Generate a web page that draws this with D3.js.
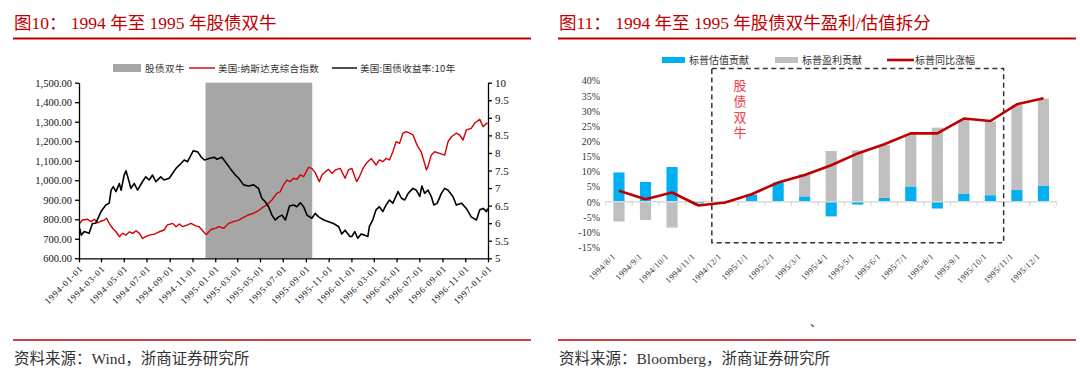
<!DOCTYPE html>
<html>
<head>
<meta charset="utf-8">
<script src="https://cdn.jsdelivr.net/npm/d3@7"></script>
<style>
body{margin:0;background:#fff;}
svg{display:block;}
</style>
</head>
<body>
<script>
// ---- figure 10 data ----
var nasdaq = [
	["1994-01-03",779],["1994-01-10",796],["1994-01-24",800],["1994-02-02",788],["1994-02-11",800],
	["1994-02-20",782],["1994-03-01",790],["1994-03-10",796],["1994-03-16",805],["1994-03-23",779],
	["1994-04-01",754],["1994-04-10",736],["1994-04-19",711],["1994-04-28",728],["1994-05-07",719],
	["1994-05-16",736],["1994-05-25",728],["1994-06-03",741],["1994-06-12",728],["1994-06-20",702],
	["1994-06-29",711],["1994-07-08",719],["1994-07-22",724],["1994-08-04",736],["1994-08-17",745],
	["1994-08-26",771],["1994-09-09",779],["1994-09-18",762],["1994-09-27",776],["1994-10-06",762],
	["1994-10-19",771],["1994-10-28",779],["1994-11-10",766],["1994-11-19",762],["1994-12-03",731],
	["1994-12-08",722],["1994-12-22",749],["1995-01-03",755],["1995-01-10",762],["1995-01-24",754],
	["1995-02-06",779],["1995-02-19",788],["1995-03-05",796],["1995-03-18",810],["1995-03-31",822],
	["1995-04-14",831],["1995-04-27",844],["1995-05-10",864],["1995-05-19",873],["1995-06-02",899],
	["1995-06-15",933],["1995-06-24",941],["1995-07-03",976],["1995-07-12",1001],["1995-07-21",993],
	["1995-07-30",1010],["1995-08-08",1005],["1995-08-17",1027],["1995-08-26",1018],["1995-09-08",1066],
	["1995-09-17",1061],["1995-09-26",1039],["1995-10-07",993],["1995-10-14",1027],["1995-10-23",1044],
	["1995-11-01",1056],["1995-11-10",1035],["1995-11-19",1053],["1995-12-02",1061],["1995-12-15",1010],
	["1995-12-24",1053],["1996-01-02",1061],["1996-01-10",1018],["1996-01-15",993],["1996-01-23",1020],
	["1996-02-01",1061],["1996-02-10",1087],["1996-02-23",1112],["1996-03-07",1078],["1996-03-16",1104],
	["1996-03-25",1095],["1996-04-03",1112],["1996-04-12",1104],["1996-04-21",1146],["1996-04-30",1198],
	["1996-05-09",1189],["1996-05-18",1241],["1996-05-27",1249],["1996-06-05",1241],["1996-06-14",1232],
	["1996-06-23",1189],["1996-06-27",1172],["1996-07-06",1146],["1996-07-15",1087],["1996-07-20",1053],
	["1996-07-24",1070],["1996-08-02",1129],["1996-08-11",1146],["1996-08-24",1138],["1996-09-07",1129],
	["1996-09-16",1198],["1996-09-25",1223],["1996-10-08",1241],["1996-10-17",1232],["1996-10-26",1206],
	["1996-11-04",1258],["1996-11-17",1266],["1996-11-26",1292],["1996-12-10",1312],["1996-12-19",1274],
	["1996-12-28",1292],["1996-12-31",1291]
];

var yield10 = [
	["1994-01-03",5.85],["1994-01-07",5.66],["1994-01-15",5.76],["1994-01-28",5.71],["1994-02-06",5.99],
	["1994-02-15",6.00],["1994-03-01",6.33],["1994-03-14",6.52],["1994-03-23",6.57],["1994-03-28",6.94],
	["1994-04-03",7.04],["1994-04-10",6.90],["1994-04-19",7.13],["1994-04-24",6.94],["1994-05-02",7.37],
	["1994-05-07",7.49],["1994-05-14",7.23],["1994-05-20",6.99],["1994-05-29",7.13],["1994-06-07",6.94],
	["1994-06-20",7.18],["1994-06-29",7.32],["1994-07-08",7.23],["1994-07-17",7.37],["1994-07-26",7.18],
	["1994-08-08",7.32],["1994-08-17",7.23],["1994-08-31",7.28],["1994-09-09",7.42],["1994-09-18",7.56],
	["1994-10-01",7.70],["1994-10-10",7.80],["1994-10-19",7.75],["1994-10-28",7.94],["1994-11-03",8.06],
	["1994-11-15",8.03],["1994-11-24",7.89],["1994-12-03",7.80],["1994-12-16",7.84],["1994-12-29",7.88],
	["1995-01-06",7.82],["1995-01-19",7.88],["1995-01-28",7.75],["1995-02-10",7.56],["1995-02-24",7.37],
	["1995-03-05",7.28],["1995-03-18",7.09],["1995-03-31",7.06],["1995-04-14",7.09],["1995-04-27",6.99],
	["1995-05-06",6.71],["1995-05-15",6.61],["1995-05-24",6.47],["1995-06-02",6.23],["1995-06-11",6.09],
	["1995-06-20",6.18],["1995-06-29",6.23],["1995-07-08",6.09],["1995-07-19",6.49],["1995-07-30",6.52],
	["1995-08-08",6.47],["1995-08-17",6.58],["1995-08-26",6.47],["1995-09-04",6.23],["1995-09-17",6.14],
	["1995-09-26",6.28],["1995-10-05",6.18],["1995-10-19",6.09],["1995-11-01",6.04],["1995-11-14",5.99],
	["1995-11-28",5.90],["1995-12-06",5.69],["1995-12-15",5.80],["1995-12-28",5.62],["1996-01-02",5.62],
	["1996-01-10",5.76],["1996-01-18",5.57],["1996-01-27",5.69],["1996-02-05",5.66],["1996-02-14",5.62],
	["1996-02-18",5.90],["1996-02-27",6.09],["1996-03-07",6.38],["1996-03-16",6.47],["1996-03-25",6.33],
	["1996-04-03",6.52],["1996-04-12",6.66],["1996-04-21",6.57],["1996-05-05",6.90],["1996-05-14",6.71],
	["1996-05-23",6.66],["1996-06-01",6.85],["1996-06-14",6.99],["1996-06-23",6.94],["1996-07-02",6.76],
	["1996-07-08",7.06],["1996-07-15",6.85],["1996-07-24",6.94],["1996-08-02",6.76],["1996-08-09",6.52],
	["1996-08-18",6.57],["1996-08-29",6.85],["1996-09-07",6.99],["1996-09-16",6.94],["1996-09-29",6.76],
	["1996-10-08",6.52],["1996-10-22",6.57],["1996-11-04",6.42],["1996-11-17",6.18],["1996-12-01",6.09],
	["1996-12-10",6.38],["1996-12-19",6.42],["1996-12-28",6.33],["1996-12-31",6.42]
];

var bullPeriod = ["1994-12-06", "1995-09-18"];
var leftTicks = [600, 700, 800, 900, 1000, 1100, 1200, 1300, 1400, 1500];
var rightTicks = [5, 5.5, 6, 6.5, 7, 7.5, 8, 8.5, 9, 9.5, 10];

// ---- figure 11 data ----
var months = ["1994/8/1","1994/9/1","1994/10/1","1994/11/1","1994/12/1","1995/1/1","1995/2/1",
	"1995/3/1","1995/4/1","1995/5/1","1995/6/1","1995/7/1","1995/8/1","1995/9/1","1995/10/1",
	"1995/11/1","1995/12/1"];
var valuation = [9.7, 6.6, 11.5, -0.5, 0.1, 2.3, 6.4, 1.8, -4.8, -0.9, 1.3, 5.1, -2.2, 2.6, 2.2, 3.9, 5.4];
var earnings = [-6.5, -6.0, -8.5, -0.7, -0.3, 0.2, 0.0, 7.4, 16.8, 17.0, 17.5, 17.3, 24.5, 24.4, 24.4, 28.1, 28.7];
var yoy = [3.7, 0.9, 3.1, -1.2, -0.2, 2.5, 6.4, 8.9, 12.1, 16.0, 19.0, 22.6, 22.6, 27.5, 26.7, 32.2, 34.2];
var pctTicks = [-15, -10, -5, 0, 5, 10, 15, 20, 25, 30, 35, 40];
var bullMonths = ["1994/12/1", "1995/10/1"];

var serif = "'Liberation Serif','Noto Sans CJK SC',serif";
var cjk = "'Noto Sans CJK SC',sans-serif";
var red = "#c00000";

var svg = d3.select("body")
	.append("svg")
	.attr("width", 1080)
	.attr("height", 374)
	.style("background", "#fff");

// titles, rules and sources
function frame(x0, x1, title, source){
	svg.append("text")
		.attr("x", x0 + 1)
		.attr("y", 29)
		.attr("font-family", serif)
		.attr("font-size", 17.5)
		.attr("fill", red)
		.text(title);
	svg.append("line")
		.attr("x1", x0).attr("x2", x1)
		.attr("y1", 38.5).attr("y2", 38.5)
		.attr("stroke", red)
		.attr("stroke-width", 2);
	svg.append("line")
		.attr("x1", x0).attr("x2", x1)
		.attr("y1", 340).attr("y2", 340)
		.attr("stroke", red)
		.attr("stroke-width", 1.5);
	svg.append("text")
		.attr("x", x0 + 1)
		.attr("y", 364)
		.attr("font-family", serif)
		.attr("font-size", 15.5)
		.attr("fill", "#333")
		.text(source);
}
frame(13, 531, "图10：  1994 年至 1995 年股债双牛", "资料来源：Wind，浙商证券研究所");
frame(558, 1076, "图11：  1994 年至 1995 年股债双牛盈利/估值拆分", "资料来源：Bloomberg，浙商证券研究所");

// ================= figure 10 =================
var parse = d3.timeParse("%Y-%m-%d");
var x = d3.scaleTime()
	.domain([new Date(1994, 0, 1), new Date(1997, 0, 1)])
	.range([79, 488]);
var yL = d3.scaleLinear().domain([600, 1500]).range([258.3, 82.7]);
var yR = d3.scaleLinear().domain([5, 10]).range([258.3, 82.7]);

var g1 = svg.append("g").attr("class", "fig10");

g1.append("rect")
	.attr("class", "bull")
	.attr("x", x(parse(bullPeriod[0])))
	.attr("width", x(parse(bullPeriod[1])) - x(parse(bullPeriod[0])))
	.attr("y", yL(1500))
	.attr("height", yL(600) - yL(1500))
	.style("fill", "#a6a6a6");

var lineL = d3.line()
	.x(function(d){ return x(parse(d[0])); })
	.y(function(d){ return yL(d[1]); });
var lineR = d3.line()
	.x(function(d){ return x(parse(d[0])); })
	.y(function(d){ return yR(d[1]); });

g1.append("path")
	.datum(nasdaq)
	.attr("d", lineL)
	.attr("fill", "none")
	.attr("stroke", "#d40000")
	.attr("stroke-width", 1.4)
	.attr("stroke-linejoin", "round");

g1.append("path")
	.datum(yield10)
	.attr("d", lineR)
	.attr("fill", "none")
	.attr("stroke", "#000")
	.attr("stroke-width", 1.6)
	.attr("stroke-linejoin", "round");

function styleAxis(g, size){
	g.attr("font-family", serif).attr("font-size", size);
	g.selectAll("path, line").attr("stroke", "#000").attr("stroke-width", 1.3);
	g.selectAll("text").attr("fill", "#111");
}

var axL = g1.append("g")
	.attr("transform", "translate(79,0)")
	.call(d3.axisLeft(yL).tickValues(leftTicks).tickFormat(d3.format(",.2f"))
		.tickSizeInner(4).tickSizeOuter(0).tickPadding(3));
styleAxis(axL, 10.5);

var axR = g1.append("g")
	.attr("transform", "translate(488,0)")
	.call(d3.axisRight(yR).tickValues(rightTicks)
		.tickFormat(function(d){ return d % 1 === 0 ? d : d.toFixed(1); })
		.tickSizeInner(4).tickSizeOuter(0).tickPadding(3));
styleAxis(axR, 11);

var monthTicks = d3.timeMonth.every(2).range(new Date(1994, 0, 1), new Date(1997, 0, 2));
var axB = g1.append("g")
	.attr("transform", "translate(0,258.3)")
	.call(d3.axisBottom(x).tickValues(monthTicks).tickFormat(d3.timeFormat("%Y-%m-%d"))
		.tickSizeInner(4).tickSizeOuter(0));
styleAxis(axB, 9);
axB.selectAll("text")
	.attr("x", 0).attr("y", 0).attr("dy", 0)
	.attr("text-anchor", "end")
	.attr("letter-spacing", 0.8)
	.attr("transform", "translate(4,11) rotate(-45)");

// legend
var lg1 = g1.append("g").attr("font-family", cjk).attr("font-size", 9.5).attr("fill", "#333");
lg1.append("rect").attr("x", 113).attr("y", 64).attr("width", 28).attr("height", 8).style("fill", "#a6a6a6");
lg1.append("text").attr("x", 145).attr("y", 71.5).attr("letter-spacing", 0.5).text("股债双牛");
lg1.append("line").attr("x1", 189).attr("x2", 215).attr("y1", 68).attr("y2", 68)
	.attr("stroke", "#d40000").attr("stroke-width", 1.4);
lg1.append("text").attr("x", 218).attr("y", 71.5).attr("letter-spacing", 0.3).text("美国:纳斯达克综合指数");
lg1.append("line").attr("x1", 332).attr("x2", 357).attr("y1", 68).attr("y2", 68)
	.attr("stroke", "#000").attr("stroke-width", 1.4);
lg1.append("text").attr("x", 360).attr("y", 71.5).attr("letter-spacing", 0.3).text("美国:国债收益率:10年");

// ================= figure 11 =================
var xB = d3.scaleBand()
	.domain(months)
	.range([605.7, 1056.7])
	.paddingInner(0.58)
	.paddingOuter(0.29);
var yP = d3.scaleLinear().domain([-15, 40]).range([247.3, 80.7]);
var step = xB.step();
var x0 = xB.range()[0];

var rows = months.map(function(m, i){
	return {month: m, valuation: valuation[i], earnings: earnings[i]};
});
var stack = d3.stack()
	.keys(["valuation", "earnings"])
	.offset(d3.stackOffsetDiverging)(rows);
var barColor = {valuation: "#00b0f0", earnings: "#bfbfbf"};

var g2 = svg.append("g").attr("class", "fig11");

// y labels
var axP = g2.append("g")
	.attr("transform", "translate(603,0)")
	.call(d3.axisLeft(yP).tickValues(pctTicks).tickFormat(function(d){ return d + "%"; })
		.tickSize(0).tickPadding(3));
axP.select(".domain").remove();
axP.attr("font-family", serif).attr("font-size", 10);
axP.selectAll("text").attr("fill", "#333");

g2.selectAll(".series")
	.data(stack)
	.enter()
	.append("g")
	.attr("class", "series")
	.style("fill", function(d){ return barColor[d.key]; })
	.selectAll("rect")
	.data(function(d){ return d; })
	.enter()
	.append("rect")
	.attr("x", function(d){ return xB(d.data.month); })
	.attr("width", xB.bandwidth())
	.attr("y", function(d){ return yP(Math.max(d[0], d[1])); })
	.attr("height", function(d){ return Math.abs(yP(d[0]) - yP(d[1])); });

// zero line with category ticks
g2.append("line")
	.attr("x1", x0).attr("x2", xB.range()[1])
	.attr("y1", yP(0)).attr("y2", yP(0))
	.attr("stroke", "#d9d9d9").attr("stroke-width", 1.5);
g2.selectAll(".ctick")
	.data(d3.range(months.length + 1))
	.enter()
	.append("line")
	.attr("class", "ctick")
	.attr("x1", function(i){ return x0 + i * step; })
	.attr("x2", function(i){ return x0 + i * step; })
	.attr("y1", yP(0)).attr("y2", yP(0) + 4)
	.attr("stroke", "#d9d9d9").attr("stroke-width", 1.2);

// yoy line
g2.append("path")
	.datum(yoy)
	.attr("d", d3.line()
		.x(function(d, i){ return xB(months[i]) + xB.bandwidth() / 2; })
		.y(function(d){ return yP(d); }))
	.attr("fill", "none")
	.attr("stroke", red)
	.attr("stroke-width", 2.6)
	.attr("stroke-linejoin", "round");

// month labels
g2.selectAll(".mlabel")
	.data(months)
	.enter()
	.append("text")
	.attr("class", "mlabel")
	.attr("text-anchor", "end")
	.attr("font-family", serif)
	.attr("font-size", 8.5)
	.attr("letter-spacing", 0.4)
	.attr("fill", "#333")
	.attr("transform", function(d){
		return "translate(" + (xB(d) + xB.bandwidth() / 2 - 3) + ",257) rotate(-45)";
	})
	.text(function(d){ return d; });

// dashed bull box
var bx0 = xB(bullMonths[0]) + xB.bandwidth() / 2 - step / 2;
var bx1 = xB(bullMonths[1]) + xB.bandwidth() / 2 + step / 2;
g2.append("rect")
	.attr("x", bx0)
	.attr("width", bx1 - bx0)
	.attr("y", yP(44))
	.attr("height", yP(-13.5) - yP(44))
	.attr("fill", "none")
	.attr("stroke", "#333")
	.attr("stroke-width", 1.5)
	.attr("stroke-dasharray", "5,3.5");

// vertical annotation, one text written top to bottom
g2.append("text")
	.attr("class", "vlabel")
	.attr("x", 740)
	.attr("y", 79)
	.style("writing-mode", "vertical-rl")
	.attr("font-family", cjk)
	.attr("font-size", 13)
	.attr("letter-spacing", 2.6)
	.attr("fill", "#f0404a")
	.text("股债双牛");

// legend
var lg2 = g2.append("g").attr("font-family", cjk).attr("font-size", 10).attr("fill", "#333");
lg2.append("rect").attr("x", 662).attr("y", 57).attr("width", 23).attr("height", 6).style("fill", "#00b0f0");
lg2.append("text").attr("x", 689).attr("y", 63.5).text("标普估值贡献");
lg2.append("rect").attr("x", 775).attr("y", 57).attr("width", 23).attr("height", 6).style("fill", "#bfbfbf");
lg2.append("text").attr("x", 802).attr("y", 63.5).text("标普盈利贡献");
lg2.append("line").attr("x1", 887).attr("x2", 914).attr("y1", 60).attr("y2", 60)
	.attr("stroke", red).attr("stroke-width", 2.6);
lg2.append("text").attr("x", 915).attr("y", 63.5).text("标普同比涨幅");

svg.append("text")
	.attr("x", 810).attr("y", 327)
	.attr("font-family", cjk)
	.attr("font-size", 12)
	.attr("fill", "#333")
	.text("、");
</script>
</body>
</html>
